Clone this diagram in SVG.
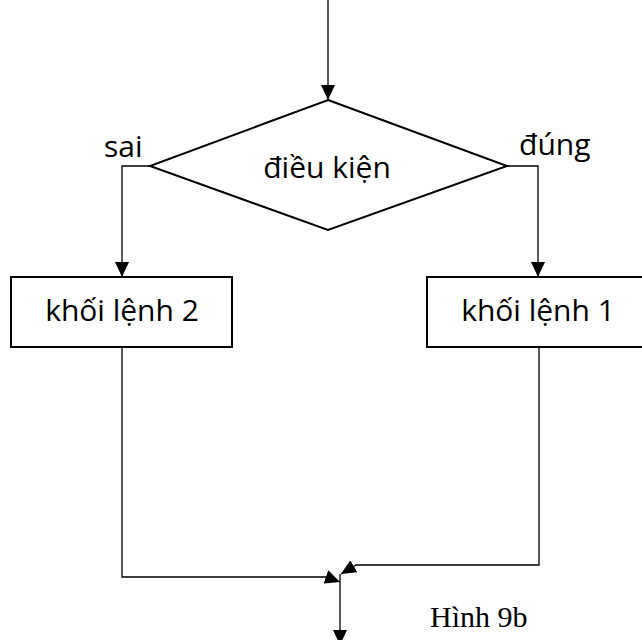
<svg xmlns="http://www.w3.org/2000/svg" width="642" height="640" viewBox="0 0 642 640">
<style>
.shape{fill:#fff;stroke:#000;stroke-width:2}
.conn{fill:none;stroke:#000;stroke-width:1.3}
.t{font-family:"Open Sans","Noto Sans",sans-serif;font-size:30px;fill:#000}
.cap{font-family:"Liberation Serif","Times New Roman",serif;font-size:30px;fill:#000}
</style>
<defs>
<marker id="ah" viewBox="0 0 15 14" refX="15" refY="7" markerWidth="15" markerHeight="14" markerUnits="userSpaceOnUse" orient="auto">
<path d="M0,0 L15,7 L0,14 Z" fill="#000"/>
</marker>
</defs>
<rect width="642" height="640" fill="#fff"/>
<g id="connectors">
<path class="conn" d="M328,0 V100" marker-end="url(#ah)"/>
<path class="conn" d="M150,166 H122 V277" marker-end="url(#ah)"/>
<path class="conn" d="M507,166 H538 V277" marker-end="url(#ah)"/>
<path class="conn" d="M122,347 V577 H326 L340,582" marker-end="url(#ah)"/>
<path class="conn" d="M539,347 V565 H356 L341,574" marker-end="url(#ah)"/>
<path class="conn" d="M340,574 V645" marker-end="url(#ah)"/>
</g>
<g id="decision">
<polygon class="shape" points="328,100 507,166 328,230 150,166"/>
<text class="t" x="327" y="178" text-anchor="middle">điều kiện</text>
</g>
<g id="label-sai"><text class="t" x="104" y="157">sai</text></g>
<g id="label-dung"><text class="t" x="519" y="155">đúng</text></g>
<g id="block2">
<rect class="shape" x="11" y="277" width="221" height="70"/>
<text class="t" x="122" y="321" text-anchor="middle">khối lệnh 2</text>
</g>
<g id="block1">
<rect class="shape" x="427" y="277" width="223" height="70"/>
<text class="t" x="538" y="321" text-anchor="middle">khối lệnh 1</text>
</g>
<g id="caption"><text class="cap" x="430" y="627">Hình 9b</text></g>
</svg>
